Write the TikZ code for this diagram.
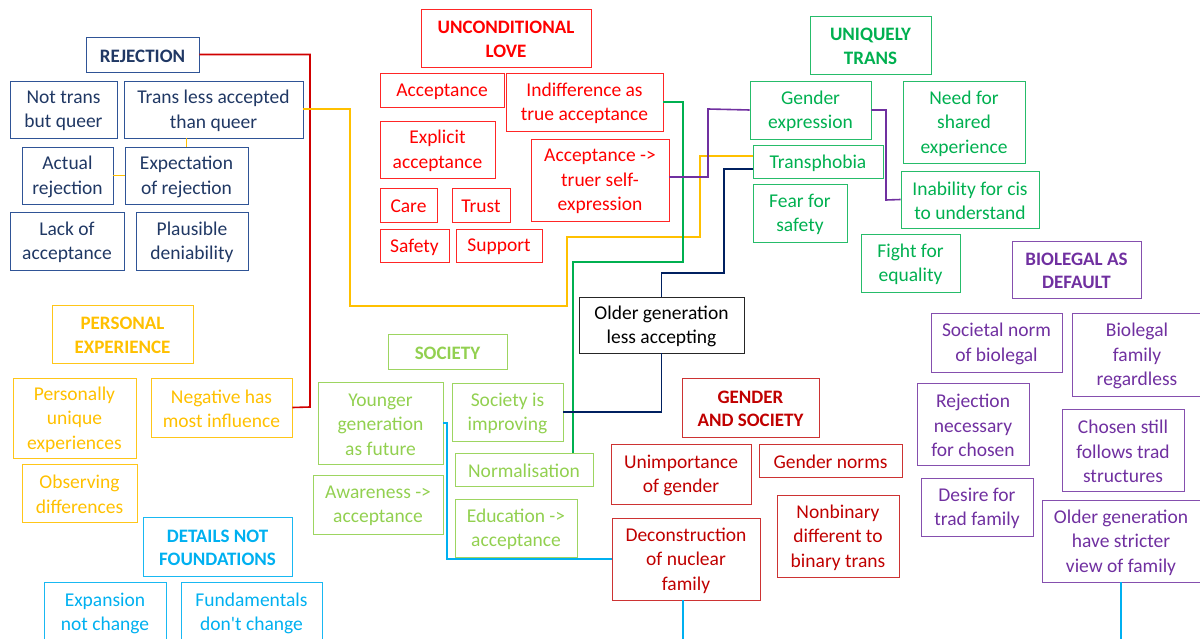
\documentclass[tikz,border=0pt]{standalone}
\usepackage{fontspec}
\setmainfont{Carlito}
\definecolor{navyT}{HTML}{203864}
\definecolor{navyB}{HTML}{2F5496}
\definecolor{navyL}{HTML}{002060}
\definecolor{redT}{HTML}{FF0000}
\definecolor{redL}{HTML}{D00000}
\definecolor{greenT}{HTML}{00B050}
\definecolor{yellowT}{HTML}{FFC000}
\definecolor{lgreenT}{HTML}{92D050}
\definecolor{lblueT}{HTML}{00B0F0}
\definecolor{dredT}{HTML}{C00000}
\definecolor{purpleT}{HTML}{7030A0}
\tikzset{
  box/.style={draw, line width=0.9pt, inner sep=0pt, align=center, font=\fontsize{19.5}{24.5}\selectfont},
  ttl/.style={box, font=\fontsize{19}{23.5}\selectfont\bfseries},
  cnavy/.style={draw=navyB, text=navyT},
  cred/.style={draw=redT!85, text=redT},
  cgreen/.style={draw=greenT!85, text=greenT},
  cyellow/.style={draw=yellowT!90, text=yellowT},
  clgreen/.style={draw=lgreenT!90, text=lgreenT},
  clblue/.style={draw=lblueT!90, text=lblueT},
  cdred/.style={draw=dredT!80, text=dredT},
  cpurple/.style={draw=purpleT!85, text=purpleT},
  cblack/.style={draw=black!85, text=black},
  link/.style={line width=1.6pt}
}
\newcommand\bx[7]{%
  \node[#6, minimum width={(#4-#2)*1pt}, minimum height={(#5-#3)*1pt}] (#1) at ({(#2+#4)/2},{(#3+#5)/2}) {};
  \node[#6, draw=none] (#1-t) at ([yshift=-1.5pt]#1.center) {#7};}
\begin{document}
\begin{tikzpicture}[x=1pt,y=-1pt]
\useasboundingbox (0,0) rectangle (1200,639);
% REJECTION
\bx{rej}{86}{37}{199}{72}{ttl,cnavy}{REJECTION}
\bx{ntq}{10}{81}{117}{138}{box,cnavy}{Not trans\\but queer}
\bx{tla}{124}{81}{303}{138}{box,cnavy}{Trans less accepted\\than queer}
\bx{act}{22}{147}{113}{204}{box,cnavy}{Actual\\rejection}
\bx{exr}{125}{147}{248}{204}{box,cnavy}{Expectation\\of rejection}
\bx{lac}{10}{212}{124}{270}{box,cnavy}{Lack of\\acceptance}
\bx{pld}{136}{212}{248}{270}{box,cnavy}{Plausible\\deniability}
% UNCONDITIONAL LOVE
\bx{ul}{421}{9}{591}{67}{ttl,cred}{UNCONDITIONAL\\LOVE}
\bx{acc}{380}{73}{504}{107}{box,cred}{Acceptance}
\bx{ind}{506}{73}{663}{131}{box,cred}{Indifference as\\true acceptance}
\bx{exa}{380}{121}{495}{178}{box,cred}{Explicit\\acceptance}
\bx{ate}{531}{139}{669}{221}{box,cred}{Acceptance ->\\truer self-\\expression}
\bx{care}{380}{188}{437}{222}{box,cred}{Care}
\bx{trust}{452}{188}{510}{222}{box,cred}{Trust}
\bx{safety}{380}{229}{449}{262}{box,cred}{Safety}
\bx{support}{456}{229}{542}{262}{box,cred}{Support}
% UNIQUELY TRANS
\bx{ut}{810}{16}{931}{74}{ttl,cgreen}{UNIQUELY\\TRANS}
\bx{gexp}{750}{81}{871}{139}{box,cgreen}{Gender\\expression}
\bx{nsh}{903}{81}{1025}{163}{box,cgreen}{Need for\\shared\\experience}
\bx{tph}{753}{145}{883}{178}{box,cgreen}{Transphobia}
\bx{ffs}{753}{184}{847}{242}{box,cgreen}{Fear for\\safety}
\bx{inab}{901}{171}{1039}{228}{box,cgreen}{Inability for cis\\to understand}
\bx{ffe}{861}{234}{960}{292}{box,cgreen}{Fight for\\equality}
% BIOLEGAL
\bx{bio}{1012}{241}{1141}{298}{ttl,cpurple}{BIOLEGAL AS\\DEFAULT}
\bx{snb}{931}{313}{1062}{372}{box,cpurple}{Societal norm\\of biolegal}
\bx{bfr}{1072}{313}{1202}{396}{box,cpurple}{Biolegal\\family\\regardless}
\bx{rnc}{917}{383}{1029}{465}{box,cpurple}{Rejection\\necessary\\for chosen}
\bx{csf}{1062}{409}{1184}{491}{box,cpurple}{Chosen still\\follows trad\\structures}
\bx{dtf}{921}{478}{1033}{536}{box,cpurple}{Desire for\\trad family}
\bx{ogs}{1042}{500}{1200}{582}{box,cpurple}{Older generation\\have stricter\\view of family}
% Older generation
\bx{old}{579}{297}{744}{353}{box,cblack}{Older generation\\less accepting}
% PERSONAL EXPERIENCE
\bx{pe}{52}{305}{193}{363}{ttl,cyellow}{PERSONAL\\EXPERIENCE}
\bx{pue}{13}{378}{136}{458}{box,cyellow}{Personally\\unique\\experiences}
\bx{neg}{151}{378}{292}{437}{box,cyellow}{Negative has\\most influence}
\bx{obs}{22}{464}{137}{522}{box,cyellow}{Observing\\differences}
% DETAILS NOT FOUNDATIONS
\bx{dnf}{143}{517}{292}{576}{ttl,clblue}{DETAILS NOT\\FOUNDATIONS}
\bx{exc}{44}{582}{166}{642}{box,clblue}{Expansion\\not change}
\bx{fdc}{181}{582}{322}{642}{box,clblue}{Fundamentals\\don\textquotesingle t change}
% SOCIETY
\bx{soc}{388}{334}{507}{369}{ttl,clgreen}{SOCIETY}
\bx{ygf}{318}{382}{443}{464}{box,clgreen}{Younger\\generation\\as future}
\bx{sii}{452}{383}{563}{441}{box,clgreen}{Society is\\improving}
\bx{nor}{455}{453}{593}{486}{box,clgreen}{Normalisation}
\bx{aac}{313}{475}{443}{534}{box,clgreen}{Awareness ->\\acceptance}
\bx{eac}{455}{499}{577}{557}{box,clgreen}{Education ->\\acceptance}
% GENDER AND SOCIETY
\bx{gs}{682}{378}{819}{437}{ttl,cdred}{GENDER\\AND SOCIETY}
\bx{uog}{611}{444}{751}{504}{box,cdred}{Unimportance\\of gender}
\bx{gn}{759}{444}{902}{477}{box,cdred}{Gender norms}
\bx{dec}{612}{518}{760}{600}{box,cdred}{Deconstruction\\of nuclear\\family}
\bx{nbt}{777}{495}{899}{577}{box,cdred}{Nonbinary\\different to\\binary trans}
% free ends
\coordinate (bot1) at (683,640);
\coordinate (bot2) at (1121,640);
% connectors
\draw[link, redL] (rej.east) -| (310,407) -- (neg.east);
\draw[link, yellowT] ([yshift=0.5pt]tla.east) -| (350,306) -| (567,237) -| (700,156) -- ([yshift=5.5pt]tph.west);
\draw[link, yellowT] (act.east) -- (exr.west);
\draw[link, yellowT] (exr.north) -- (exr.north |- tla.south);
\draw[link, greenT] (ind.east) -| (683,262) -| ([xshift=49pt]nor.north);
\draw[link, purpleT] ([yshift=3pt]ate.east) -| (708,109) -- (gexp.west);
\draw[link, purpleT] (gexp.east) -| (886,200) -- (inab.west);
\draw[link, navyL] ([yshift=-7.5pt]tph.west) -| (724,273) -| (old.north);
\draw[link, navyL] (old.south) |- (sii.east);
\draw[link, lblueT] (ygf.east) -| (447,559) -- (dec.west);
\draw[link, lblueT] (dec.south -| bot1) -- (bot1);
\draw[link, lblueT] (ogs.south) -- (bot2);
\end{tikzpicture}
\end{document}
